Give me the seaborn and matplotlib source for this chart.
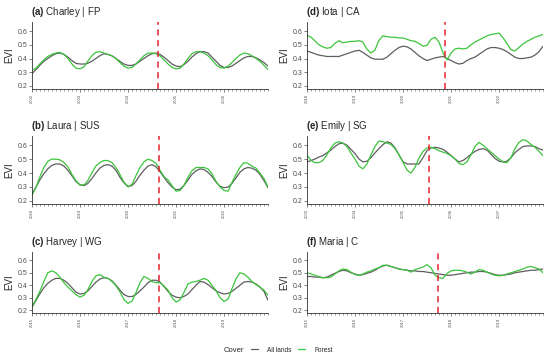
import numpy as np
import pandas as pd
import seaborn as sns
import matplotlib.pyplot as plt
import matplotlib.dates as mdates

# monthly EVI (first month = January of start year)
charley_all = [0.29, 0.32, 0.35, 0.38, 0.40, 0.42, 0.435, 0.44, 0.43, 0.41, 0.385, 0.365,
               0.36, 0.36, 0.365, 0.38, 0.40, 0.42, 0.435, 0.43, 0.42, 0.40, 0.38, 0.36,
               0.35, 0.35, 0.36, 0.38, 0.40, 0.42, 0.435, 0.44, 0.43, 0.41, 0.385, 0.36,
               0.345, 0.34, 0.355, 0.38, 0.41, 0.435, 0.45, 0.45, 0.44, 0.41, 0.38, 0.35,
               0.335, 0.335, 0.345, 0.365, 0.385, 0.405, 0.415, 0.415, 0.405, 0.39, 0.37, 0.345]
charley_forest = [0.315, 0.33, 0.36, 0.39, 0.415, 0.43, 0.44, 0.445, 0.43, 0.40, 0.36, 0.33,
                  0.325, 0.34, 0.38, 0.42, 0.445, 0.45, 0.44, 0.43, 0.42, 0.40, 0.37, 0.345,
                  0.33, 0.335, 0.36, 0.39, 0.42, 0.44, 0.44, 0.435, 0.42, 0.39, 0.36, 0.335,
                  0.325, 0.33, 0.36, 0.40, 0.435, 0.45, 0.45, 0.44, 0.42, 0.39, 0.355, 0.335,
                  0.33, 0.345, 0.37, 0.40, 0.425, 0.44, 0.435, 0.42, 0.40, 0.38, 0.35, 0.32]

laura_all = [0.25, 0.30, 0.35, 0.395, 0.43, 0.455, 0.465, 0.465, 0.45, 0.42, 0.38, 0.34,
             0.315, 0.31, 0.325, 0.36, 0.40, 0.435, 0.455, 0.46, 0.45, 0.42, 0.37, 0.33,
             0.305, 0.31, 0.34, 0.385, 0.42, 0.45, 0.46, 0.445, 0.41, 0.37, 0.33, 0.30,
             0.28, 0.285, 0.31, 0.35, 0.39, 0.415, 0.43, 0.425, 0.405, 0.375, 0.335, 0.305,
             0.295, 0.30, 0.325, 0.365, 0.405, 0.43, 0.44, 0.435, 0.42, 0.39, 0.345, 0.295]
laura_forest = [0.24, 0.30, 0.37, 0.44, 0.485, 0.50, 0.50, 0.495, 0.475, 0.445, 0.39, 0.345,
                0.315, 0.315, 0.345, 0.40, 0.45, 0.475, 0.49, 0.49, 0.475, 0.44, 0.39, 0.335,
                0.30, 0.32, 0.38, 0.44, 0.48, 0.50, 0.49, 0.47, 0.42, 0.375, 0.35, 0.31,
                0.27, 0.275, 0.31, 0.37, 0.415, 0.44, 0.44, 0.44, 0.43, 0.395, 0.34, 0.30,
                0.275, 0.27, 0.33, 0.39, 0.44, 0.475, 0.47, 0.45, 0.435, 0.40, 0.36, 0.30]

harvey_all = [0.225, 0.28, 0.33, 0.38, 0.415, 0.44, 0.455, 0.455, 0.44, 0.415, 0.38, 0.345,
              0.33, 0.335, 0.355, 0.39, 0.425, 0.45, 0.46, 0.455, 0.435, 0.40, 0.36, 0.325,
              0.31, 0.31, 0.325, 0.355, 0.385, 0.42, 0.44, 0.44, 0.425, 0.39, 0.35, 0.32,
              0.305, 0.30, 0.31, 0.33, 0.365, 0.40, 0.43, 0.425, 0.405, 0.38, 0.355, 0.34,
              0.33, 0.335, 0.35, 0.375, 0.40, 0.425, 0.43, 0.425, 0.41, 0.385, 0.35, 0.28]
harvey_forest = [0.23, 0.29, 0.35, 0.43, 0.50, 0.515, 0.50, 0.465, 0.42, 0.385, 0.355, 0.325,
                 0.305, 0.32, 0.365, 0.43, 0.475, 0.485, 0.465, 0.455, 0.43, 0.395, 0.345, 0.285,
                 0.255, 0.275, 0.34, 0.42, 0.47, 0.455, 0.43, 0.42, 0.42, 0.395, 0.36, 0.30,
                 0.265, 0.285, 0.34, 0.41, 0.425, 0.43, 0.44, 0.455, 0.44, 0.40, 0.355, 0.30,
                 0.27, 0.29, 0.37, 0.45, 0.50, 0.49, 0.465, 0.43, 0.405, 0.385, 0.36, 0.32]

iota_all = [0.455, 0.445, 0.435, 0.425, 0.42, 0.415, 0.415, 0.415, 0.415, 0.425, 0.435, 0.445,
            0.455, 0.46, 0.445, 0.425, 0.405, 0.395, 0.395, 0.395, 0.41, 0.435, 0.46, 0.48,
            0.49, 0.485, 0.47, 0.445, 0.42, 0.40, 0.385, 0.395, 0.405, 0.41, 0.415, 0.40,
            0.385, 0.37, 0.36, 0.365, 0.385, 0.40, 0.41, 0.43, 0.45, 0.47, 0.48, 0.48,
            0.475, 0.465, 0.45, 0.43, 0.41, 0.40, 0.40, 0.405, 0.41, 0.425, 0.45, 0.49]
iota_forest = [0.57, 0.555, 0.53, 0.50, 0.485, 0.475, 0.48, 0.51, 0.53, 0.515, 0.52, 0.525,
               0.525, 0.53, 0.52, 0.47, 0.44, 0.46, 0.53, 0.565, 0.56, 0.555, 0.555, 0.55,
               0.55, 0.54, 0.53, 0.525, 0.51, 0.49, 0.495, 0.54, 0.555, 0.52, 0.44, 0.39,
               0.44, 0.47, 0.475, 0.47, 0.475, 0.50, 0.52, 0.535, 0.55, 0.565, 0.575, 0.58,
               0.585, 0.55, 0.51, 0.465, 0.455, 0.48, 0.505, 0.525, 0.54, 0.555, 0.565, 0.575]

emily_all = [0.48, 0.49, 0.50, 0.515, 0.525, 0.545, 0.565, 0.59, 0.61, 0.615, 0.60, 0.57,
             0.54, 0.50, 0.48, 0.485, 0.51, 0.545, 0.575, 0.605, 0.625, 0.615, 0.58, 0.53,
             0.48, 0.465, 0.465, 0.465, 0.465, 0.51, 0.56, 0.58, 0.585, 0.58, 0.57, 0.55,
             0.525, 0.50, 0.48, 0.49, 0.51, 0.535, 0.555, 0.57, 0.575, 0.565, 0.535, 0.505,
             0.485, 0.48, 0.485, 0.51, 0.545, 0.57, 0.59, 0.595, 0.595, 0.59, 0.575, 0.565]
emily_forest = [0.53, 0.49, 0.475, 0.475, 0.49, 0.53, 0.58, 0.615, 0.625, 0.615, 0.59, 0.545,
                0.50, 0.45, 0.43, 0.465, 0.53, 0.59, 0.63, 0.625, 0.615, 0.605, 0.575, 0.53,
                0.475, 0.42, 0.40, 0.44, 0.505, 0.555, 0.58, 0.585, 0.575, 0.56, 0.55, 0.54,
                0.525, 0.50, 0.47, 0.46, 0.48, 0.53, 0.59, 0.62, 0.60, 0.575, 0.55, 0.525,
                0.50, 0.48, 0.475, 0.51, 0.575, 0.62, 0.64, 0.63, 0.605, 0.585, 0.555, 0.525]

maria_all = [0.47, 0.47, 0.465, 0.465, 0.46, 0.465, 0.48, 0.495, 0.51, 0.52, 0.515, 0.50,
             0.49, 0.48, 0.485, 0.495, 0.505, 0.52, 0.54, 0.555, 0.56, 0.55, 0.54, 0.53,
             0.525, 0.52, 0.515, 0.515, 0.51, 0.51, 0.505, 0.50, 0.495, 0.49, 0.485, 0.48,
             0.48, 0.485, 0.49, 0.495, 0.50, 0.505, 0.505, 0.51, 0.51, 0.505, 0.495, 0.485,
             0.48, 0.48, 0.485, 0.49, 0.50, 0.505, 0.51, 0.515, 0.52, 0.52, 0.525, 0.53]
maria_forest = [0.50, 0.49, 0.48, 0.47, 0.46, 0.46, 0.465, 0.49, 0.515, 0.53, 0.525, 0.505,
                0.485, 0.48, 0.49, 0.505, 0.515, 0.53, 0.54, 0.56, 0.56, 0.55, 0.54, 0.53,
                0.525, 0.52, 0.505, 0.525, 0.535, 0.545, 0.565, 0.54, 0.48, 0.46, 0.455, 0.495,
                0.515, 0.52, 0.52, 0.515, 0.505, 0.49, 0.505, 0.525, 0.52, 0.505, 0.49, 0.48,
                0.475, 0.48, 0.49, 0.50, 0.51, 0.52, 0.53, 0.545, 0.55, 0.54, 0.53, 0.50]

# tag, title, first year, landfall date, all lands, forest
panels = [
    ("(a)", "Charley | FP", 2002, "2004-08-13", charley_all, charley_forest),
    ("(b)", "Laura | SUS", 2018, "2020-08-27", laura_all, laura_forest),
    ("(c)", "Harvey | WG", 2015, "2017-08-25", harvey_all, harvey_forest),
    ("(d)", "Iota | CA", 2018, "2020-11-16", iota_all, iota_forest),
    ("(e)", "Emily | SG", 2003, "2005-07-18", emily_all, emily_forest),
    ("(f)", "Maria | C", 2015, "2017-09-20", maria_all, maria_forest),
]

sns.set_style("ticks")
plt.rcParams["font.family"] = ["Liberation Sans", "DejaVu Sans"]
plt.rcParams["mathtext.fontset"] = "custom"
plt.rcParams["mathtext.rm"] = "Liberation Sans"
plt.rcParams["mathtext.bf"] = "Liberation Sans:bold"

W, H = 550, 358
fig = plt.figure(figsize=(W / 100, H / 100), dpi=100)

# axes boxes in pixels
col_x = [(32, 268), (307, 543)]
row_y = [(22, 89), (136, 204), (252, 313)]
palette = {"All lands": "#5e5e5e", "Forest": "#3cc43c"}
grey = "#4d4d4d"

handles = labels = None
for k, (tag, name, start, landfall, all_vals, forest_vals) in enumerate(panels):
    col, row = divmod(k, 3)
    x0, x1 = col_x[col]
    y0, y1 = row_y[row]
    ax = fig.add_axes([x0 / W, 1 - y1 / H, (x1 - x0) / W, (y1 - y0) / H])

    dates = pd.date_range(f"{start}-01-01", periods=len(all_vals), freq="MS")
    df = pd.DataFrame({
        "date": list(dates) + list(dates),
        "EVI": all_vals + forest_vals,
        "Cover": ["All lands"] * len(all_vals) + ["Forest"] * len(forest_vals),
    })
    sns.lineplot(data=df, x="date", y="EVI", hue="Cover", palette=palette,
                 linewidth=0.9, ax=ax)
    if handles is None:
        handles, labels = ax.get_legend_handles_labels()
    ax.get_legend().remove()

    ax.axvline(pd.Timestamp(landfall), color="#e8202a", linestyle=(0, (4, 3)),
               linewidth=1.1)

    ax.set_xlim(dates[0], dates[-1])
    ax.set_ylim(0.178, 0.666)
    ax.set_yticks([0.2, 0.3, 0.4, 0.5, 0.6])
    ax.set_yticklabels(["0.2", "0.3", "0.4", "0.5", "0.6"])
    ax.xaxis.set_major_locator(mdates.YearLocator())
    ax.xaxis.set_major_formatter(mdates.DateFormatter("%Y"))
    ax.xaxis.set_minor_locator(mdates.MonthLocator())
    ax.tick_params(axis="x", which="major", labelsize=3, labelrotation=90,
                   length=2, width=0.5, color=grey, labelcolor=grey, pad=1.5)
    ax.tick_params(axis="x", which="minor", length=1.5, width=0.4, color=grey)
    ax.tick_params(axis="y", labelsize=5, length=2, width=0.5, color=grey,
                   labelcolor=grey, pad=1.5)
    for side in ["top", "right"]:
        ax.spines[side].set_visible(False)
    for side in ["left", "bottom"]:
        ax.spines[side].set_color("#333333")
        ax.spines[side].set_linewidth(0.6)

    ax.set_xlabel("")
    ax.set_ylabel("EVI", fontsize=7, labelpad=2)
    ax.set_title(r"$\bf{" + tag + "}$ " + name, loc="left", fontsize=7,
                 pad=5, x=-0.005)

fig.text(224 / W, 1 - 350 / H, "Cover", fontsize=5.5, va="center", ha="left")
fig.legend(handles, labels, loc="center left", bbox_to_anchor=(248 / W, 1 - 350 / H),
           ncol=2, frameon=False, fontsize=4.7, handlelength=1.1,
           handletextpad=1.4, columnspacing=1.0, borderaxespad=0)

fig.savefig("out.png", dpi=100)
